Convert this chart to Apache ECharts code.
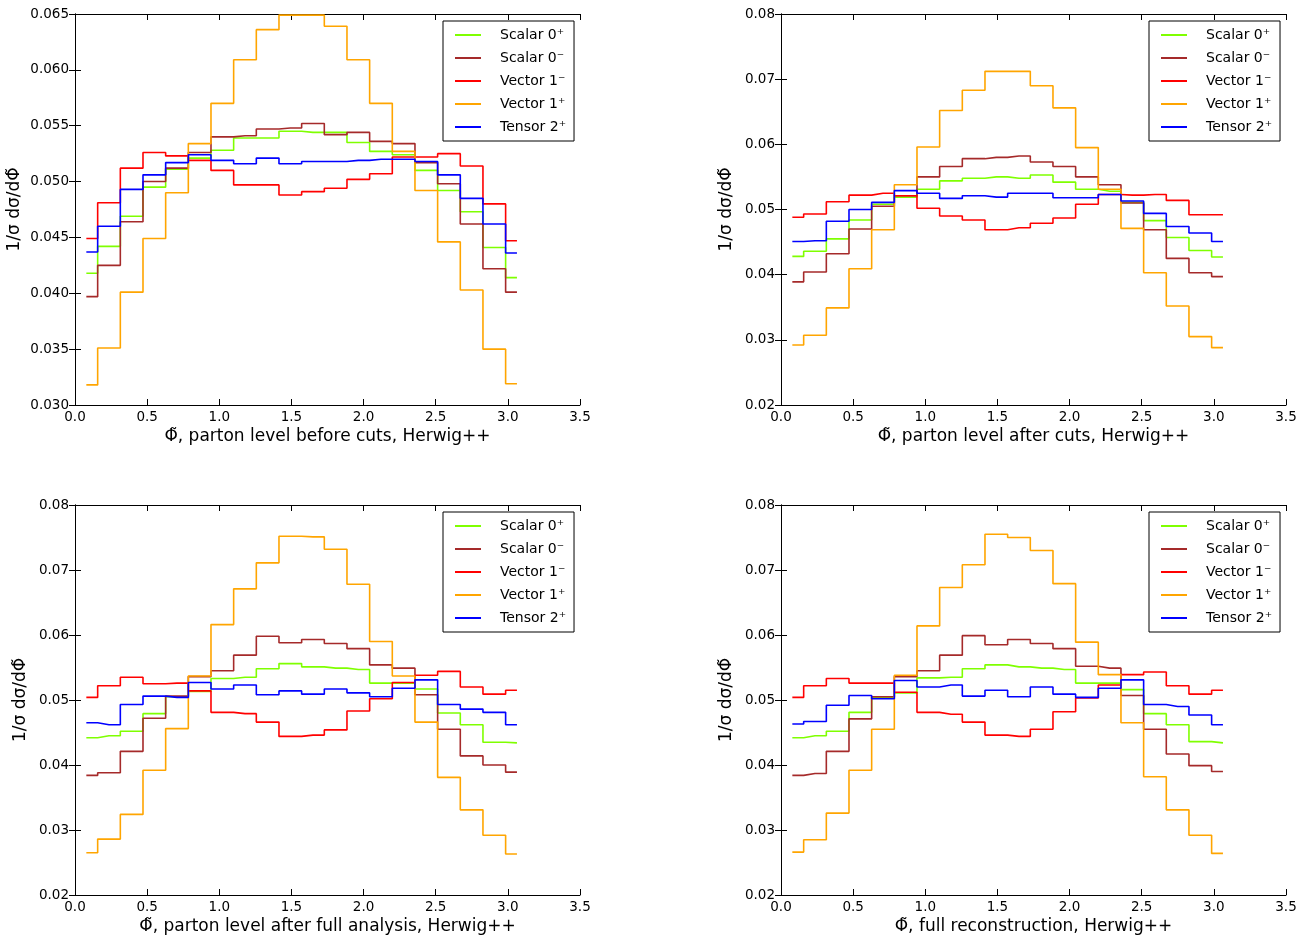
<!DOCTYPE html>
<html><head><meta charset="utf-8">
<script src="https://cdn.jsdelivr.net/npm/echarts@6/dist/echarts.min.js"></script>
<style>html,body{margin:0;padding:0;background:#fff}#c{width:1305px;height:937px}</style>
</head><body><div id="c"></div>
<script>
const names = ["Scalar 0⁺","Scalar 0⁻","Vector 1⁻","Vector 1⁺","Tensor 2⁺"];
const colors = ["#7fff00","#a52a2a","#ff0000","#ffa500","#0000ff"];
const xLabels = ["Φ̃, parton level before cuts, Herwig++","Φ̃, parton level after cuts, Herwig++","Φ̃, parton level after full analysis, Herwig++","Φ̃, full reconstruction, Herwig++"];
const binCenters = Array.from({length:20},(_, i)=>(i+0.5)*Math.PI/20);

const p1 = [
 [.0418,.0442,.0469,.0495,.0511,.0521,.0528,.0539,.0539,.0545,.0544,.0544,.0535,.0527,.0524,.0510,.0492,.0473,.0441,.0414],
 [.0397,.0425,.0464,.0500,.0512,.0526,.0540,.0541,.0547,.0548,.0552,.0542,.0544,.0536,.0534,.0517,.0498,.0462,.0422,.0401],
 [.0449,.0481,.0512,.0526,.0523,.0519,.0510,.0497,.0497,.0488,.0491,.0494,.0502,.0507,.0522,.0522,.0525,.0514,.0480,.0447],
 [.0318,.0351,.0401,.0449,.0490,.0534,.0570,.0609,.0636,.0649,.0649,.0639,.0609,.0570,.0527,.0492,.0446,.0403,.0350,.0319],
 [.0437,.0460,.0493,.0506,.0517,.0524,.0519,.0516,.0521,.0516,.0518,.0518,.0519,.0520,.0520,.0518,.0506,.0485,.0462,.0436]];
const p2 = [
 [.0428,.0436,.0455,.0484,.0508,.0519,.0531,.0544,.0548,.0550,.0548,.0553,.0542,.0531,.0528,.0511,.0483,.0457,.0437,.0427],
 [.0389,.0404,.0432,.0470,.0505,.0521,.0550,.0566,.0578,.0580,.0582,.0573,.0566,.0550,.0538,.0510,.0469,.0425,.0403,.0397],
 [.0488,.0493,.0512,.0522,.0525,.0521,.0502,.0490,.0484,.0469,.0472,.0479,.0487,.0508,.0523,.0522,.0523,.0514,.0492,.0492],
 [.0292,.0307,.0349,.0409,.0469,.0538,.0596,.0652,.0683,.0712,.0712,.0690,.0656,.0595,.0531,.0471,.0403,.0352,.0305,.0288],
 [.0451,.0452,.0482,.0500,.0511,.0529,.0525,.0517,.0521,.0519,.0525,.0525,.0518,.0518,.0523,.0513,.0494,.0474,.0464,.0451]];
const p3 = [
 [.0442,.0445,.0452,.0479,.0505,.0513,.0533,.0535,.0548,.0556,.0551,.0549,.0547,.0526,.0526,.0517,.0480,.0462,.0435,.0434],
 [.0384,.0388,.0421,.0472,.0506,.0536,.0545,.0569,.0598,.0588,.0593,.0587,.0579,.0554,.0549,.0508,.0455,.0414,.0400,.0389],
 [.0504,.0522,.0535,.0525,.0526,.0514,.0481,.0479,.0466,.0444,.0446,.0454,.0483,.0502,.0527,.0538,.0544,.0520,.0509,.0515],
 [.0265,.0286,.0324,.0392,.0456,.0537,.0616,.0671,.0711,.0752,.0751,.0732,.0678,.0590,.0537,.0466,.0381,.0331,.0292,.0263],
 [.0465,.0462,.0493,.0506,.0504,.0527,.0517,.0523,.0508,.0514,.0509,.0517,.0511,.0505,.0518,.0531,.0493,.0486,.0481,.0462]];
const p4 = [
 [.0442,.0445,.0452,.0481,.0504,.0511,.0534,.0535,.0548,.0554,.0551,.0549,.0547,.0526,.0526,.0516,.0479,.0462,.0436,.0434],
 [.0384,.0387,.0421,.0471,.0505,.0536,.0545,.0569,.0599,.0585,.0593,.0587,.0579,.0552,.0549,.0507,.0455,.0417,.0399,.0390],
 [.0504,.0522,.0533,.0526,.0526,.0512,.0481,.0478,.0466,.0446,.0444,.0455,.0482,.0503,.0523,.0539,.0543,.0522,.0509,.0515],
 [.0266,.0285,.0326,.0392,.0455,.0538,.0614,.0673,.0708,.0755,.0750,.0730,.0679,.0589,.0539,.0465,.0382,.0331,.0292,.0264],
 [.0463,.0467,.0492,.0507,.0502,.0530,.0520,.0523,.0506,.0515,.0505,.0520,.0509,.0504,.0518,.0531,.0493,.0490,.0477,.0462]];
const panels = [p1,p2,p3,p4];
const yRanges = [[0.030,0.065,0.005,3],[0.02,0.08,0.01,2],[0.02,0.08,0.01,2],[0.02,0.08,0.01,2]];

const grids = [
 {left:75,top:14,width:505,height:391},
 {left:781,top:14,width:505,height:391},
 {left:75,top:505,width:505,height:390},
 {left:781,top:505,width:505,height:390}];
const font = "DejaVu Sans";
const xAxis=[], yAxis=[], series=[], legend=[];
grids.forEach((g,k)=>{
  const [ymin,ymax,yint,dec] = yRanges[k];
  const line = {show:true,lineStyle:{color:'#000',width:1}};
  xAxis.push({type:'value',gridIndex:k,min:0,max:3.5,interval:0.5,position:'bottom',
    axisLine:line,axisTick:{inside:true,length:6,lineStyle:{color:'#000'}},splitLine:{show:false},
    axisLabel:{color:'#000',fontFamily:font,fontSize:13.5,margin:5,formatter:v=>v.toFixed(1)},
    name:xLabels[k],nameLocation:'middle',nameGap:23,nameTextStyle:{color:'#000',fontFamily:font,fontSize:17}});
  xAxis.push({type:'value',gridIndex:k,min:0,max:3.5,interval:0.5,position:'top',
    axisLine:line,axisTick:{inside:true,length:6,lineStyle:{color:'#000'}},splitLine:{show:false},axisLabel:{show:false}});
  yAxis.push({type:'value',gridIndex:k,min:ymin,max:ymax,interval:yint,position:'left',
    axisLine:line,axisTick:{inside:true,length:6,lineStyle:{color:'#000'}},splitLine:{show:false},
    axisLabel:{color:'#000',fontFamily:font,fontSize:13.5,margin:6,formatter:v=>v.toFixed(dec)},
    name:'1/σ dσ/dΦ̃',nameLocation:'middle',nameGap:k===0?52:46,nameTextStyle:{color:'#000',fontFamily:font,fontSize:17}});
  yAxis.push({type:'value',gridIndex:k,min:ymin,max:ymax,interval:yint,position:'right',
    axisLine:line,axisTick:{inside:true,length:6,lineStyle:{color:'#000'}},splitLine:{show:false},axisLabel:{show:false}});
  panels[k].forEach((vals,s)=>{
    series.push({type:'line',name:names[s],xAxisIndex:2*k,yAxisIndex:2*k,step:'middle',symbol:'none',
      data:binCenters.map((x,i)=>[x,vals[i]]),lineStyle:{color:colors[s],width:1.6},itemStyle:{color:colors[s]},
      animation:false});
  });
  legend.push({data:names,orient:'vertical',left:g.left+368,top:g.top+7,width:129,
    borderColor:'#000',borderWidth:1,padding:[7,8,7,12],itemGap:9,itemWidth:26,itemHeight:2,icon:'rect',
    textStyle:{color:'#000',fontFamily:font,fontSize:14,padding:[0,0,0,14]}});
});
const chart = echarts.init(document.getElementById('c'));
chart.setOption({animation:false,backgroundColor:'#fff',grid:grids,xAxis,yAxis,series,legend});
</script></body></html>
